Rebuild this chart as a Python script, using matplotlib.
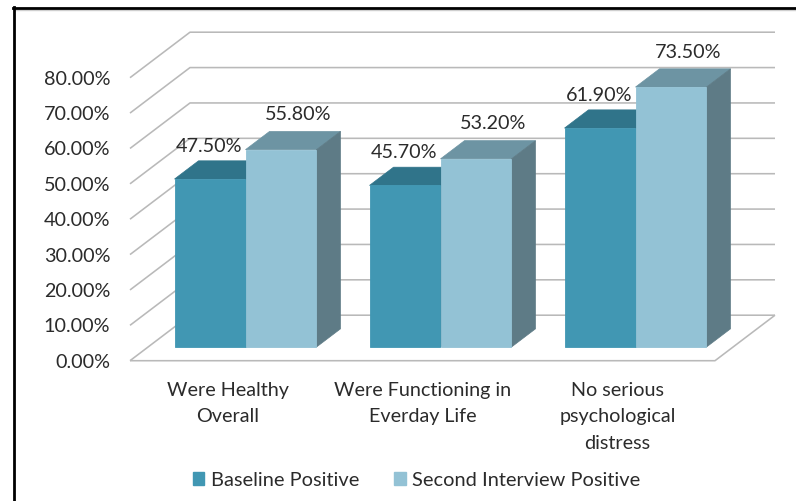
import matplotlib
matplotlib.use("Agg")
import matplotlib.pyplot as plt
from matplotlib.lines import Line2D
from matplotlib.patches import Patch, Polygon
from matplotlib.transforms import Affine2D, IdentityTransform

categories = ["Were Healthy\nOverall", "Were Functioning in\nEverday Life", "No serious\npsychological\ndistress"]
baseline = [47.5, 45.7, 61.9]
second = [55.8, 53.2, 73.5]
series_names = ["Baseline Positive", "Second Interview Positive"]
yticks = [0, 10, 20, 30, 40, 50, 60, 70, 80]

W, H = 796, 501
FONT = "Lato"
TXT = "#2b2b2b"
FS = 14.2
FS_LEG = 14.4
GRID = "#b9b9b9"
DX, DY = 60.0, 45.5  # wall depth in pixels
BAR_W = 0.364

plt.rcParams["font.family"] = [FONT, "DejaVu Sans"]
fig = plt.figure(figsize=(W / 100, H / 100), dpi=100, facecolor="white")
ax = fig.add_axes([130 / W, (H - 360.7) / H, 585 / W, 283 / H])
ax.set_xlim(0, 3)
ax.set_ylim(0, 80)
ax.patch.set_visible(False)
for s in ax.spines.values():
    s.set_visible(False)
xpos = [i + 0.5 for i in range(len(categories))]
ax.set_yticks(yticks, [f"{v:.2f}%" for v in yticks], fontsize=FS, color=TXT)
ax.set_xticks(xpos, categories, fontsize=FS, color=TXT, linespacing=1.69)
ax.tick_params(axis="y", length=0, pad=14.2)
ax.tick_params(axis="x", length=0, pad=15)


def px(x, v, d):
    """Screen position of data point (x, v) pushed back by fraction d of the depth."""
    X, Y = ax.transData.transform((x, v))
    return (X + DX * d, Y + DY * d)


def screen_poly(points, color, z, lw=0.0, edge=None):
    ax.add_patch(Polygon(points, closed=True, facecolor=color, edgecolor=edge or color, linewidth=lw,
                         transform=IdentityTransform(), clip_on=False, zorder=z))


def screen_line(points, color=GRID, lw=1.15, z=1):
    ax.add_line(Line2D([p[0] for p in points], [p[1] for p in points], color=color, lw=lw,
                       transform=IdentityTransform(), clip_on=False, zorder=z, solid_capstyle="butt"))


# walls and floor
for v in yticks:
    screen_line([px(0, v, 0), px(0, v, 1), px(3, v, 1)], z=1)
screen_line([px(0, 0, 0), px(3, 0, 0), px(3, 0, 1)], z=1)

offset = Affine2D().translate(DX * 0.3, DY * 0.3)


def draw_bar(x0, v, front, top, side, z):
    x1 = x0 + BAR_W
    ax.bar(x0, v, BAR_W, align="edge", color=front, edgecolor=front, linewidth=0.6, zorder=z + 0.2, clip_on=False,
           transform=ax.transData + offset)
    screen_poly([px(x0, v, .3), px(x1, v, .3), px(x1, v, .7), px(x0, v, .7)], top, z, 0.5)
    screen_poly([px(x1, 0, .3), px(x1, v, .3), px(x1, v, .7), px(x1, 0, .7)], side, z, 0.5)


C_DARK = ("#4197B3", "#30748A", "#2F6A7C")
C_LIGHT = ("#93C2D5", "#6D94A3", "#5E7B86")
for i, x in enumerate(xpos):
    draw_bar(x - BAR_W, baseline[i], *C_DARK, 3 + i)
    draw_bar(x, second[i], *C_LIGHT, 3.5 + i)

# data labels
for i, x in enumerate(xpos):
    for v, bx, ox, oy in ((baseline[i], x - BAR_W / 2, -1, 33), (second[i], x + BAR_W / 2, 17, 35)):
        X, Y = (ax.transData + offset).transform((bx, v))
        ax.annotate(f"{v:.2f}%", xy=(X + ox, Y + oy), xycoords="figure pixels", ha="center", va="center",
                    fontsize=FS, color=TXT, zorder=20, annotation_clip=False)

# legend
handles = [Patch(facecolor=C_DARK[0], edgecolor=C_DARK[0]), Patch(facecolor=C_LIGHT[0], edgecolor=C_LIGHT[0])]
fig.legend(handles, series_names, loc="center", bbox_to_anchor=(416.5 / W, (H - 480) / H), ncol=2, frameon=False,
           fontsize=FS_LEG, labelcolor=TXT, handlelength=0.58, handleheight=0.58, handletextpad=0.32,
           columnspacing=1.75, borderpad=0, borderaxespad=0)

# picture border
fig.add_artist(Line2D([14 / W, 1], [1 - 9.5 / H, 1 - 9.5 / H], color="#cfcfcf", lw=1.0))
fig.add_artist(Line2D([13 / W, 1], [1 - 8 / H, 1 - 8 / H], color="black", lw=2.0))
fig.add_artist(Line2D([14 / W, 14 / W], [0, 1 - 7 / H], color="black", lw=2.0))

fig.savefig("out.png", dpi=100, facecolor="white")
